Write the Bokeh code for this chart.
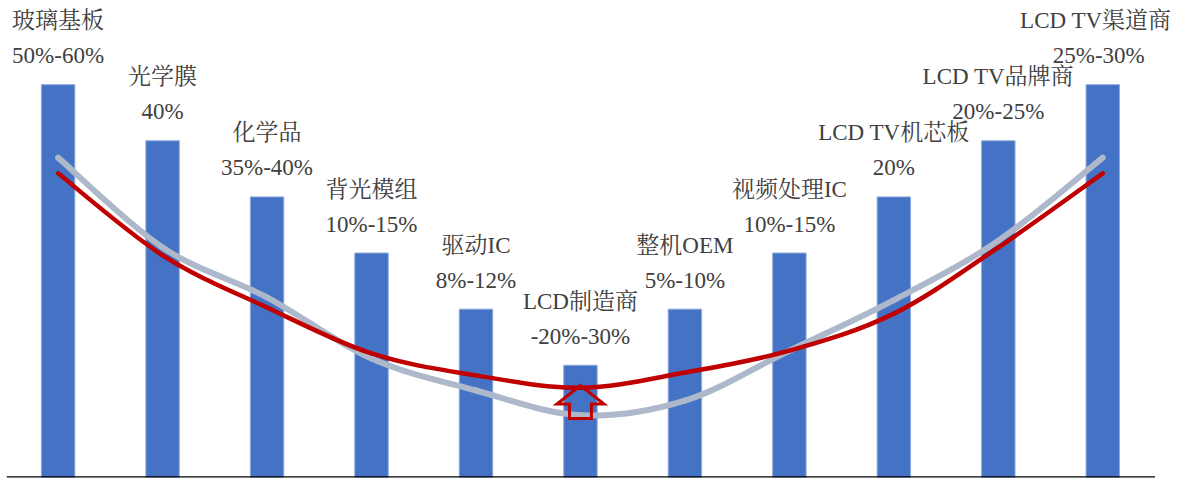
from bokeh.plotting import figure
from bokeh.models import ColumnDataSource, Range1d
from bokeh.core.properties import value
from bokeh.embed import file_html
from bokeh.resources import INLINE

names = ["玻璃基板", "光学膜", "化学品", "背光模组", "驱动IC", "LCD制造商",
         "整机OEM", "视频处理IC", "LCD TV机芯板", "LCD TV品牌商", "LCD TV渠道商"]
margins = ["50%-60%", "40%", "35%-40%", "10%-15%", "8%-12%", "-20%-30%",
           "5%-10%", "10%-15%", "20%", "20%-25%", "25%-30%"]
bar_values = [7, 6, 5, 4, 3, 2, 3, 4, 5, 6, 7]
gray_curve = [5.70, 4.10, 3.21, 2.12, 1.55, 1.11, 1.37, 2.26, 3.16, 4.22, 5.70]
red_curve = [5.42, 3.96, 3.03, 2.21, 1.82, 1.60, 1.87, 2.26, 2.92, 4.10, 5.42]

xs = list(range(1, len(names) + 1))
PX_PER_UNIT = 56.1

p = figure(width=1189, height=479, output_backend="svg", toolbar_location=None,
           x_range=Range1d(0.506, 11.83), y_range=Range1d(0, 8.50),
           min_border_left=6, min_border_right=0, min_border_top=0, min_border_bottom=2)
p.outline_line_color = None
p.xaxis.visible = False
p.yaxis.visible = False
p.xgrid.visible = False
p.ygrid.visible = False
p.background_fill_color = "white"
p.border_fill_color = "white"

p.vbar(x=xs, top=bar_values, width=0.32, bottom=0, fill_color="#4472C4",
       line_color="#8FAADC", line_width=1)


def smooth_segments(xv, yv):
    n = len(xv)
    x0, y0, x1, y1, cx0, cy0, cx1, cy1 = [], [], [], [], [], [], [], []
    for i in range(n - 1):
        xm = xv[i - 1] if i > 0 else xv[i]
        ym = yv[i - 1] if i > 0 else yv[i]
        xp = xv[i + 2] if i + 2 < n else xv[i + 1]
        yp = yv[i + 2] if i + 2 < n else yv[i + 1]
        x0.append(xv[i]); y0.append(yv[i])
        x1.append(xv[i + 1]); y1.append(yv[i + 1])
        cx0.append(xv[i] + (xv[i + 1] - xm) / 6.0)
        cy0.append(yv[i] + (yv[i + 1] - ym) / 6.0)
        cx1.append(xv[i + 1] - (xp - xv[i]) / 6.0)
        cy1.append(yv[i + 1] - (yp - yv[i]) / 6.0)
    return dict(x0=x0, y0=y0, x1=x1, y1=y1, cx0=cx0, cy0=cy0, cx1=cx1, cy1=cy1)


gs = ColumnDataSource(smooth_segments(xs, gray_curve))
p.bezier(x0="x0", y0="y0", x1="x1", y1="y1", cx0="cx0", cy0="cy0", cx1="cx1", cy1="cy1",
         source=gs, line_color="#ADB9CA", line_width=6, line_cap="round")

# hollow arrow at the lowest bar
mid = xs[bar_values.index(min(bar_values))]
tip_y = 1.64
wing_y = 1.31
bot_y = 1.05
wing = 0.225
shaft = 0.105
ax = [mid, mid + wing, mid + shaft, mid + shaft, mid - shaft, mid - shaft, mid - wing, mid]
ay = [tip_y, wing_y, wing_y, bot_y, bot_y, wing_y, wing_y, tip_y]
p.patch(ax, ay, fill_alpha=0, line_color="#C00000", line_width=3, line_join="miter")

rs = ColumnDataSource(smooth_segments(xs, red_curve))
p.bezier(x0="x0", y0="y0", x1="x1", y1="y1", cx0="cx0", cy0="cy0", cx1="cx1", cy1="cy1",
         source=rs, line_color="#C00000", line_width=4.5, line_cap="round")

font = value("'Liberation Serif', 'Noto Serif CJK SC', 'Noto Sans CJK SC', serif")
name_y = [v + 64 / PX_PER_UNIT for v in bar_values]
pct_y = [v + 29 / PX_PER_UNIT for v in bar_values]
name_dx = [0] * 10 + [-7]
pct_dx = [0] * 10 + [-4]

src_n = ColumnDataSource(dict(x=xs, y=name_y, t=names, dx=name_dx))
src_p = ColumnDataSource(dict(x=xs, y=pct_y, t=margins, dx=pct_dx))
p.text(x="x", y="y", text="t", x_offset="dx", source=src_n, text_align="center",
       text_baseline="middle", text_font=font, text_font_size="23px", text_color="#404040")
p.text(x="x", y="y", text="t", x_offset="dx", source=src_p, text_align="center",
       text_baseline="middle", text_font=font, text_font_size="23px", text_color="#404040")

# baseline (category axis line)
p.segment(x0=[0.506], y0=[0], x1=[11.5], y1=[0], line_color="black", line_width=2.5)

open("out.html", "w").write(file_html(p, INLINE))
